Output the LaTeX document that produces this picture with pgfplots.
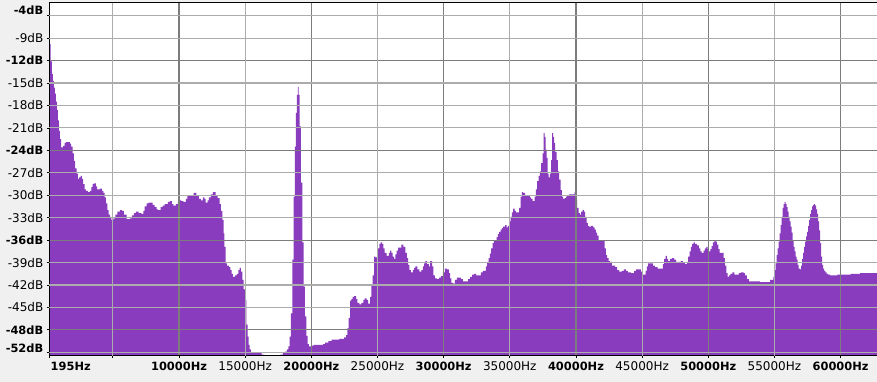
\documentclass[border=0pt]{standalone}
\usepackage{pgfplots}
\pgfplotsset{compat=1.18}
\usepackage{fontspec}
\setmainfont{DejaVu Sans}
\definecolor{bg}{RGB}{240,240,240}
\definecolor{spec}{RGB}{138,60,190}
\definecolor{gridl}{RGB}{172,172,172}
\definecolor{gridd}{RGB}{124,124,124}
\newcommand\B[1]{{\fontsize{11.4}{13}\selectfont\bfseries #1}}
\newcommand\N[1]{{\fontsize{12}{14}\selectfont #1}}
\begin{document}
\begin{tikzpicture}
\useasboundingbox (0,0) rectangle (877pt,382pt);
\fill[bg] (0,0) rectangle (877pt,382pt);
\begin{axis}[
  at={(49.3pt,26.3pt)}, anchor=south west,
  width=827.7pt, height=353pt, scale only axis,
  xmin=195, xmax=62754, ymin=-51.45, ymax=-4.26,
  axis background/.style={fill=white},
  axis on top,
  axis x line=box, axis y line=left,
  axis line style={-, black, line width=0.9pt},
  xtick pos=bottom,
  tick align=outside, major tick length=2.5pt,
  tick style={black, line width=0.8pt},
  grid=major, major grid style={gridd, line width=1.1pt},
  scaled x ticks=false,
  xtick={195,10000,20000,30000,40000,50000,60000},
  xticklabels={\makebox[0pt][l]{\hspace{1.4pt}\B{195Hz}},\B{10000Hz},\B{20000Hz},\B{30000Hz},\B{40000Hz},\B{50000Hz},\B{60000Hz}},
  extra x ticks={5000,15000,25000,35000,45000,55000},
  extra x tick labels={{},\N{15000Hz},\N{25000Hz},\N{35000Hz},\N{45000Hz},\N{55000Hz}},
  extra x tick style={grid=major, major grid style={gridl, line width=1.1pt}},
  ytick={-12,-24,-36,-48},
  yticklabels={\B{-12dB},\B{-24dB},\B{-36dB},\B{-48dB}},
  extra y ticks={-6,-9,-15,-18,-21,-27,-30,-33,-39,-42,-45,-51},
  extra y tick labels={\raisebox{5pt}[\height][\depth]{\B{-4dB}},\N{-9dB},\N{-15dB},\N{-18dB},\N{-21dB},\N{-27dB},\N{-30dB},\N{-33dB},\N{-39dB},\N{-42dB},\N{-45dB},\raisebox{4pt}[\height][\depth]{\B{-52dB}}},
  extra y tick style={grid=major, major grid style={gridl, line width=1.1pt}},
]
\addplot[fill=spec, draw=none, const plot mark left] table {
f db
195 -60
195 -9.8
287 -12.1
386 -13.8
461 -14.7
537 -15.6
613 -16.4
688 -17.5
764 -18.6
839 -20.0
915 -21.4
991 -22.5
1097 -23.6
1248 -23.4
1346 -23.0
1445 -22.9
1747 -23.1
1853 -23.5
1951 -24.4
2050 -25.4
2155 -26.4
2254 -27.1
2352 -27.8
2458 -27.6
2556 -27.4
2655 -27.8
2760 -28.5
2859 -29.2
2957 -29.4
3108 -29.6
3260 -29.4
3366 -28.9
3464 -28.5
3562 -28.4
3714 -28.8
3819 -29.2
4016 -29.1
4167 -29.4
4273 -29.7
4371 -30.3
4470 -31.1
4576 -32.0
4674 -32.6
4772 -32.9
4878 -33.3
5029 -33.1
5181 -32.6
5332 -32.2
5529 -32.0
5680 -32.1
5831 -32.6
6035 -33.2
6285 -33.1
6436 -32.7
6587 -32.4
6739 -32.2
6943 -32.4
7147 -32.5
7298 -32.1
7397 -31.5
7548 -31.1
7699 -31.0
8002 -31.3
8153 -31.6
8304 -31.9
8403 -32.0
8607 -31.6
8758 -31.4
8909 -31.2
9159 -30.9
9310 -30.8
9461 -31.2
9567 -31.4
9764 -31.2
9915 -30.9
10021 -30.7
10172 -30.8
10323 -30.9
10520 -30.5
10626 -30.1
11102 -29.7
11306 -30.1
11503 -30.5
11654 -30.7
11806 -30.3
11911 -30.5
12010 -31.0
12161 -30.7
12260 -30.3
12411 -29.9
12562 -29.6
12766 -30.1
12918 -30.4
13069 -31.2
13167 -32.1
13273 -33.3
13372 -35.1
13422 -36.9
13523 -39.1
13621 -39.4
13772 -39.6
13878 -40.0
13977 -40.5
14075 -40.9
14226 -40.7
14378 -40.5
14483 -40.0
14582 -39.7
14680 -40.2
14786 -41.3
14884 -42.6
14983 -44.0
15089 -47.3
15187 -48.9
15262 -50.0
15338 -50.6
15436 -51.0
15845 -51.1
16245 -51.3
16450 -51.6
17660 -51.3
17857 -51.1
18008 -50.9
18159 -50.6
18265 -50.2
18363 -48.9
18461 -45.8
18567 -38.6
18665 -30.2
18764 -23.5
18839 -19.0
18915 -16.6
18991 -15.5
19043 -16.6
19119 -20.8
19218 -28.3
19323 -36.3
19422 -42.2
19520 -46.2
19626 -48.8
19724 -49.9
19823 -50.2
20027 -50.1
20178 -50.0
20882 -49.9
21033 -49.7
21290 -49.5
21540 -49.3
22121 -49.2
22470 -49.0
22621 -48.7
22727 -47.8
22825 -46.4
22923 -44.1
23029 -43.9
23128 -43.6
23226 -43.5
23377 -43.9
23483 -44.4
23635 -44.6
23786 -44.4
23937 -44.0
24035 -43.8
24187 -44.0
24285 -44.5
24436 -43.6
24542 -41.9
24640 -40.7
24739 -38.2
24845 -38.3
24996 -37.1
25147 -36.5
25246 -36.3
25344 -36.5
25450 -37.1
25548 -37.7
25699 -38.1
25851 -37.7
25949 -37.4
26055 -37.7
26153 -38.2
26251 -38.5
26357 -37.9
26455 -37.4
26554 -37.0
26811 -36.6
26962 -36.9
27113 -37.7
27212 -38.4
27310 -39.3
27416 -40.0
27514 -40.3
27665 -40.0
27764 -39.7
27870 -39.5
28021 -39.9
28172 -40.2
28323 -40.0
28422 -39.5
28520 -39.1
28626 -38.8
28724 -39.2
28876 -39.5
28974 -38.8
29125 -39.5
29231 -40.7
29329 -41.1
29481 -41.2
29632 -41.0
29783 -40.8
29934 -40.3
30085 -39.8
30237 -39.9
30388 -40.4
30486 -41.1
30592 -41.7
30743 -41.8
30842 -41.3
30993 -41.0
31296 -41.2
31447 -41.5
31848 -41.2
31999 -40.9
32150 -40.6
32302 -40.5
32453 -40.7
32808 -40.3
32960 -40.1
33186 -39.5
33285 -38.9
33391 -38.4
33489 -37.8
33587 -37.1
33693 -36.4
33792 -36.0
33996 -35.6
34094 -35.2
34193 -34.9
34298 -34.6
34397 -34.4
34495 -34.2
34646 -34.0
34752 -34.3
34850 -34.1
34949 -33.5
35055 -32.9
35153 -32.3
35251 -31.8
35357 -32.1
35456 -32.3
35705 -31.7
35811 -30.2
35909 -29.6
36008 -29.7
36159 -30.1
36514 -30.3
36613 -30.5
36718 -30.8
36870 -30.2
36968 -29.2
37067 -28.1
37172 -27.4
37270 -26.8
37369 -25.7
37475 -24.4
37550 -21.7
37626 -22.2
37701 -23.9
37777 -25.0
37853 -27.1
37928 -27.6
38027 -27.1
38125 -25.3
38201 -21.7
38276 -22.2
38352 -23.0
38428 -24.2
38534 -25.3
38632 -26.8
38730 -27.9
38836 -29.3
38935 -30.2
39033 -30.5
39139 -30.4
39237 -30.2
39336 -30.0
39487 -29.9
39894 -29.6
39992 -30.6
40091 -31.7
40197 -32.4
40295 -32.6
40393 -32.2
40499 -32.0
40598 -32.2
40696 -32.9
40802 -33.7
40900 -34.1
40999 -34.2
41150 -34.1
41301 -34.3
41407 -34.6
41506 -35.0
41604 -35.4
41710 -36.0
41808 -36.1
42163 -37.1
42262 -38.0
42360 -38.4
42466 -38.8
42564 -38.9
42715 -39.4
42965 -39.6
43116 -40.0
43267 -40.2
43471 -40.1
43623 -39.9
43774 -40.1
43925 -40.3
44153 -40.4
44403 -40.1
44554 -39.9
44909 -40.2
45060 -40.6
45264 -40.1
45363 -39.5
45461 -39.1
45816 -39.4
45967 -39.6
46171 -39.8
46572 -39.2
46670 -38.5
46776 -38.1
46875 -38.5
46973 -38.8
47124 -38.5
47276 -38.4
47427 -38.6
47578 -38.9
47933 -38.8
48085 -39.0
48236 -39.2
48387 -38.9
48486 -38.2
48591 -37.5
48690 -36.9
48788 -36.5
48894 -36.3
48993 -36.5
49144 -36.7
49295 -37.1
49394 -37.5
49499 -37.7
49651 -37.4
49749 -37.1
49848 -36.9
49953 -37.2
50052 -37.5
50150 -37.2
50256 -36.8
50355 -36.3
50453 -36.1
50559 -36.2
50657 -36.6
50756 -37.2
50862 -37.7
51164 -38.4
51263 -39.4
51361 -40.4
51467 -40.9
51565 -40.7
51664 -40.5
51815 -40.3
51966 -40.6
52321 -40.4
52472 -40.3
52677 -40.4
52775 -40.7
52926 -41.2
53078 -41.5
53909 -41.6
54666 -41.3
54915 -40.9
55021 -40.0
55097 -39.1
55172 -38.0
55248 -37.1
55324 -36.2
55399 -35.1
55475 -34.0
55551 -32.9
55626 -31.7
55702 -31.2
55778 -30.9
55853 -31.2
55929 -31.6
56005 -32.2
56080 -32.9
56156 -33.5
56232 -34.2
56307 -35.0
56383 -36.0
56459 -36.9
56534 -37.5
56610 -38.2
56686 -38.6
56761 -39.3
56837 -39.8
56935 -39.9
57011 -39.4
57086 -38.5
57162 -37.7
57238 -36.9
57313 -36.2
57389 -35.5
57465 -34.9
57540 -34.1
57616 -33.3
57692 -32.5
57767 -32.0
57843 -31.5
57919 -31.3
57994 -31.2
58070 -31.4
58146 -31.9
58221 -32.5
58297 -33.5
58373 -34.7
58448 -36.4
58524 -38.2
58600 -39.3
58675 -39.8
58751 -40.1
58852 -40.3
58952 -40.5
59052 -40.6
59204 -40.7
59755 -40.6
60768 -40.5
61471 -40.4
62754 -40.4
62754 -60
} -- cycle;
\end{axis}
\end{tikzpicture}
\end{document}
